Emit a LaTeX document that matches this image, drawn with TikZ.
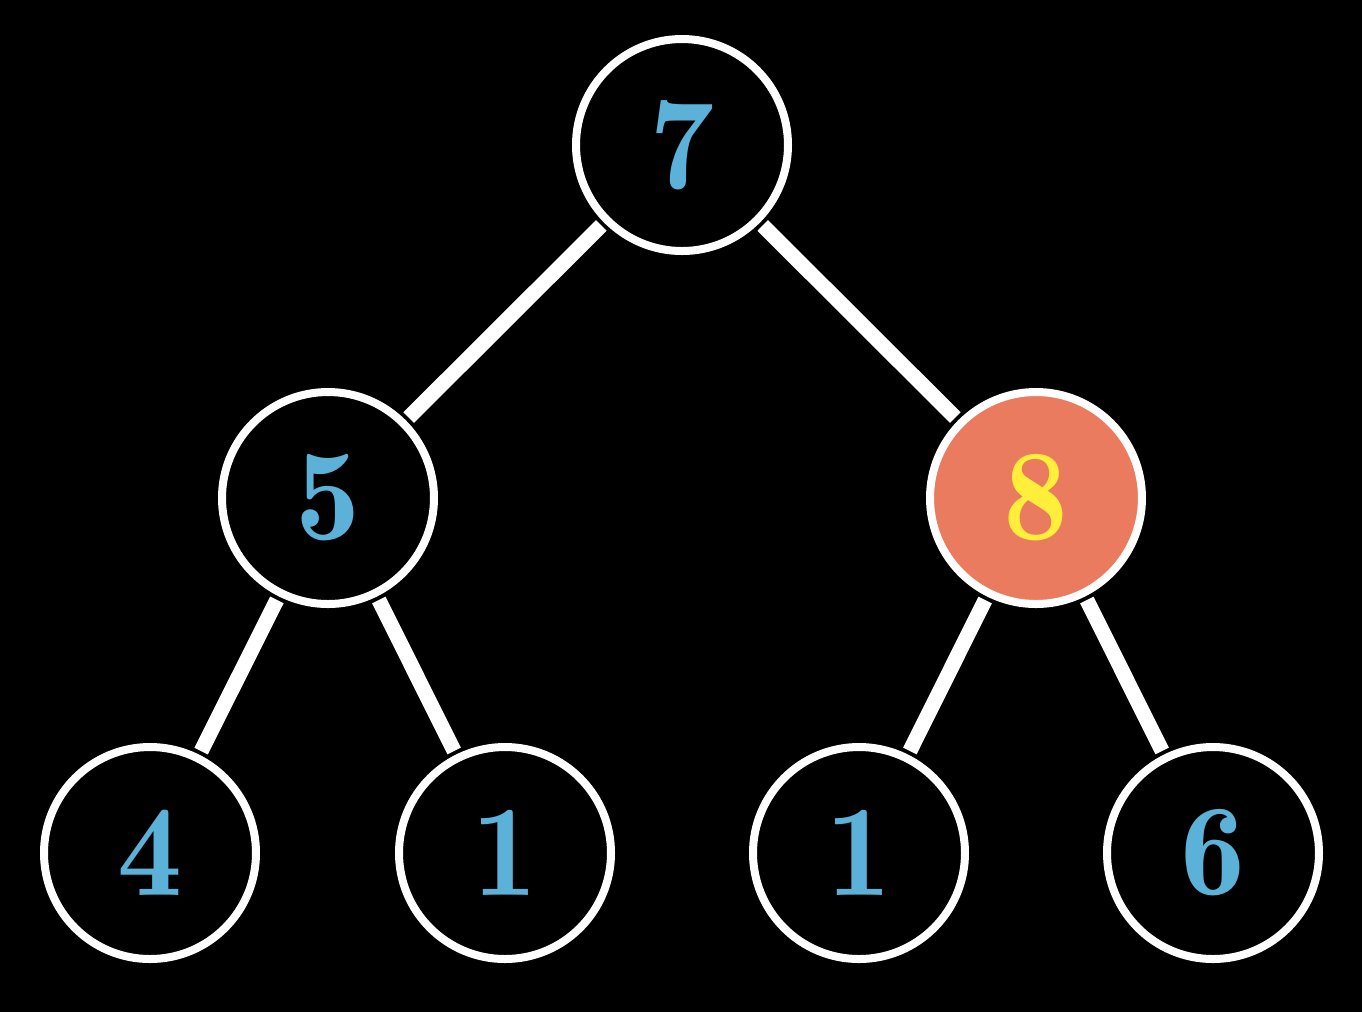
\documentclass[tikz,border=0pt]{standalone}
\definecolor{numblue}{HTML}{5CB1D8}
\definecolor{salmon}{HTML}{EB7B5F}
\definecolor{numyellow}{HTML}{FFEE3A}
\begin{document}
\begin{tikzpicture}[
  treenode/.style={circle, draw=white, line width=0.08cm, fill=black, minimum size=2.12cm, inner sep=0pt,
    text=numblue, font=\fontsize{37}{40}\fontseries{b}\selectfont},
  hot/.style={fill=salmon, text=numyellow},
  edge/.style={draw=white, line width=0.15cm, shorten <=0.04cm, shorten >=0.04cm}
]
\fill[black] (0,0) rectangle (13.62,-10.12);
\useasboundingbox (0,0) rectangle (13.62,-10.12);
\node[treenode] (r) at (6.82,-1.45) {7};
\node[treenode] (a) at (3.28,-4.98) {5};
\node[treenode,hot] (b) at (10.36,-4.98) {8};
\node[treenode] (a1) at (1.50,-8.53) {4};
\node[treenode] (a2) at (5.05,-8.53) {1};
\node[treenode] (b1) at (8.59,-8.53) {1};
\node[treenode] (b2) at (12.13,-8.53) {6};
\draw[edge] (r) -- (a);
\draw[edge] (r) -- (b);
\draw[edge] (a) -- (a1);
\draw[edge] (a) -- (a2);
\draw[edge] (b) -- (b1);
\draw[edge] (b) -- (b2);
\end{tikzpicture}
\end{document}
